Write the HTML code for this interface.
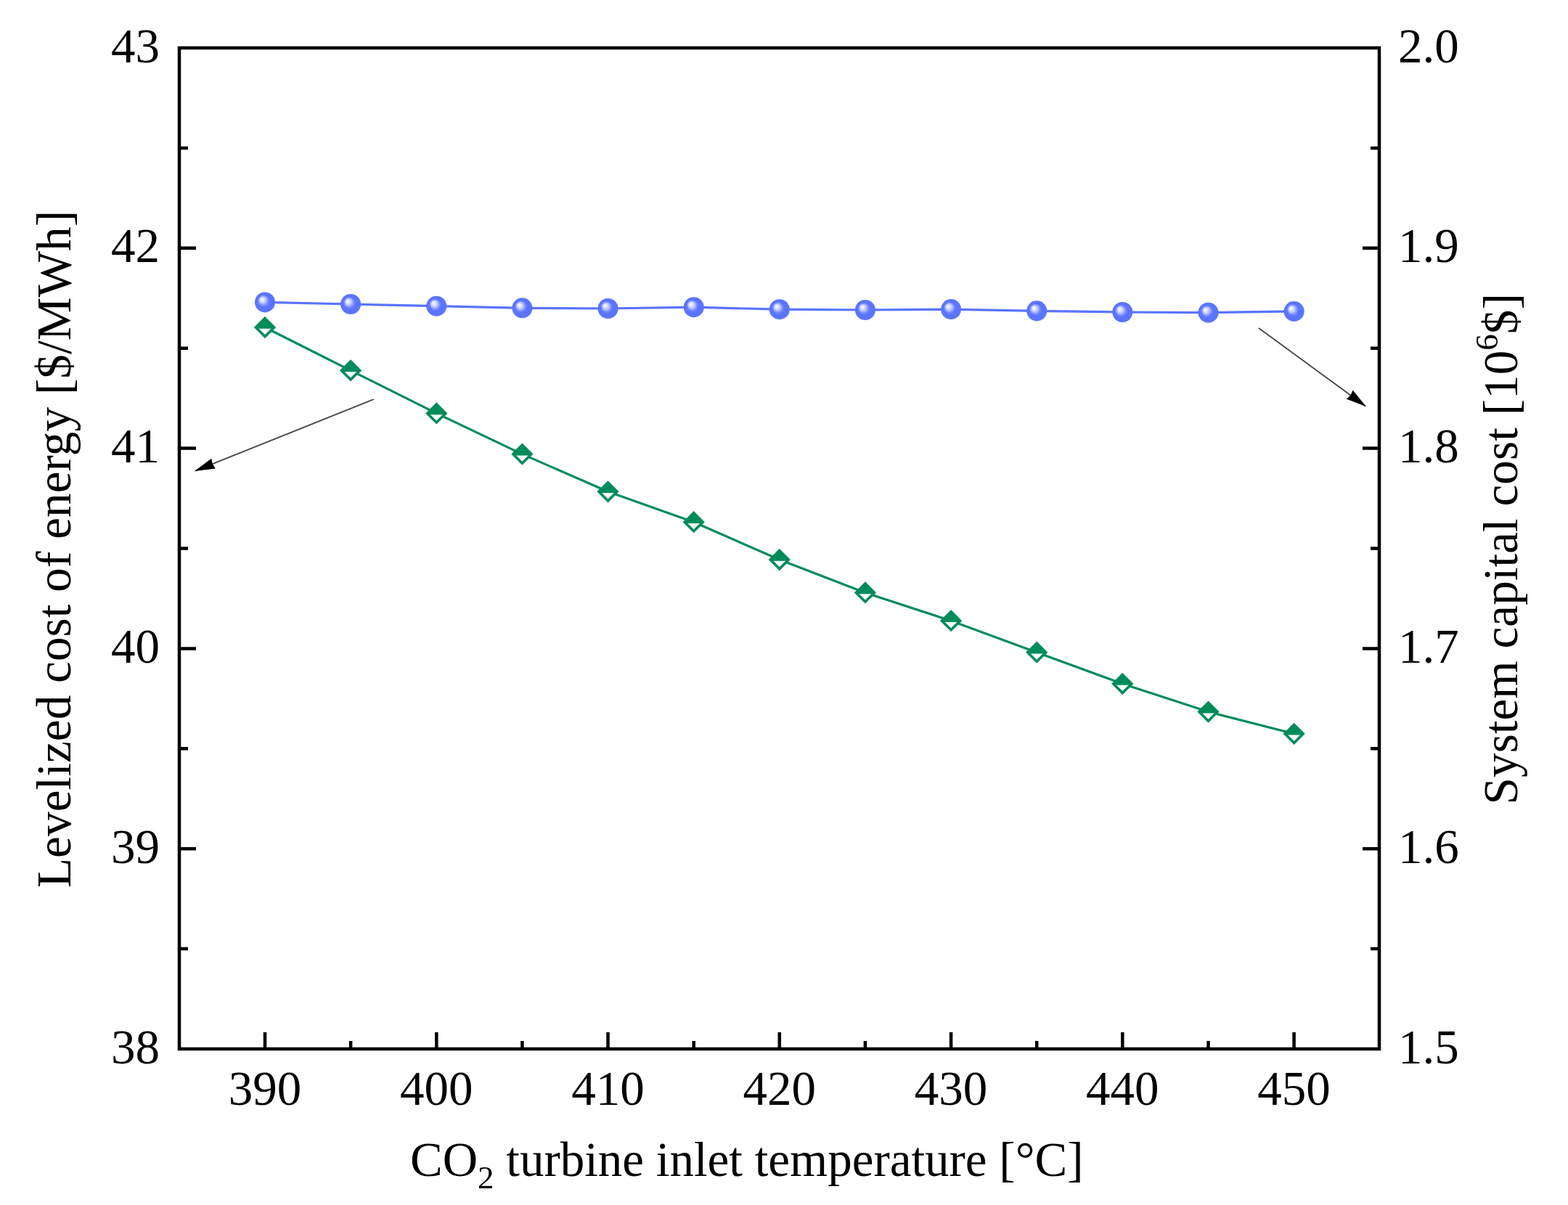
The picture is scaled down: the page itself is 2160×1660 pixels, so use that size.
<!DOCTYPE html>
<html><head><meta charset="utf-8"><title>LCOE vs CO2 turbine inlet temperature</title>
<style>
html,body{margin:0;padding:0;background:#fff;}
body{width:2160px;height:1660px;overflow:hidden;}
svg{display:block;}
text{font-family:"Liberation Serif","Times New Roman",serif;fill:#000;}
</style></head><body>
<svg width="2160" height="1660" viewBox="0 0 2160 1660">
<defs>
<radialGradient id="ball" cx="0.5" cy="0.5" r="0.5" fx="0.34" fy="0.34">
<stop offset="0" stop-color="#ffffff"/>
<stop offset="0.15" stop-color="#e4e8ff"/>
<stop offset="0.32" stop-color="#b8c2ff"/>
<stop offset="0.5" stop-color="#7487ff"/>
<stop offset="0.62" stop-color="#5a74ff"/>
<stop offset="1" stop-color="#5a74ff"/>
</radialGradient>
<marker id="ah" viewBox="0 0 28 15" refX="27" refY="7.5" markerWidth="28" markerHeight="15" markerUnits="userSpaceOnUse" orient="auto"><path d="M0,0 L28,7.5 L0,15 L1.5,7.5 z" fill="#000"/></marker>
</defs>
<rect x="0" y="0" width="2160" height="1660" fill="#fff"/>

<rect x="247" y="66" width="1653" height="1379" fill="none" stroke="#000" stroke-width="4.5"/>
<path d="M247 1307.1h12 M1900 1307.1h-12 M247 1169.2h23 M1900 1169.2h-23 M247 1031.3h12 M1900 1031.3h-12 M247 893.4h23 M1900 893.4h-23 M247 755.5h12 M1900 755.5h-12 M247 617.6h23 M1900 617.6h-23 M247 479.7h12 M1900 479.7h-12 M247 341.8h23 M1900 341.8h-23 M247 203.9h12 M1900 203.9h-12 M365.0 1445v-23 M483.1 1445v-11 M601.3 1445v-23 M719.4 1445v-11 M837.5 1445v-23 M955.7 1445v-11 M1073.8 1445v-23 M1191.9 1445v-11 M1310.1 1445v-23 M1428.2 1445v-11 M1546.3 1445v-23 M1664.5 1445v-11 M1782.6 1445v-23" stroke="#000" stroke-width="4.5" fill="none"/>
<text x="220" y="1464.5" text-anchor="end" font-size="67">38</text>
<text x="220" y="1188.7" text-anchor="end" font-size="67">39</text>
<text x="220" y="912.9" text-anchor="end" font-size="67">40</text>
<text x="220" y="637.1" text-anchor="end" font-size="67">41</text>
<text x="220" y="361.3" text-anchor="end" font-size="67">42</text>
<text x="220" y="85.5" text-anchor="end" font-size="67">43</text>
<text x="1926" y="1464.5" font-size="67">1.5</text>
<text x="1926" y="1188.7" font-size="67">1.6</text>
<text x="1926" y="912.9" font-size="67">1.7</text>
<text x="1926" y="637.1" font-size="67">1.8</text>
<text x="1926" y="361.3" font-size="67">1.9</text>
<text x="1926" y="85.5" font-size="67">2.0</text>
<text x="365.0" y="1522" text-anchor="middle" font-size="67">390</text>
<text x="601.3" y="1522" text-anchor="middle" font-size="67">400</text>
<text x="837.5" y="1522" text-anchor="middle" font-size="67">410</text>
<text x="1073.8" y="1522" text-anchor="middle" font-size="67">420</text>
<text x="1310.1" y="1522" text-anchor="middle" font-size="67">430</text>
<text x="1546.3" y="1522" text-anchor="middle" font-size="67">440</text>
<text x="1782.6" y="1522" text-anchor="middle" font-size="67">450</text>
<text x="565" y="1620" font-size="67">CO<tspan font-size="45" dy="17">2</tspan><tspan dy="-17"> turbine inlet temperature [°C]</tspan></text>
<text transform="translate(97.3 1223) rotate(-90)" font-size="67.3">Levelized cost of energy [$/MWh]</text>
<text transform="translate(2090 1108.4) rotate(-90)" font-size="67.25">System capital cost [10<tspan font-size="45" dy="-27">6</tspan><tspan dy="27">$]</tspan></text>
<polyline points="365.0,451 483.1,510.4 601.3,569.4 719.4,625.6 837.5,677.3 955.7,719.2 1073.8,771 1191.9,816.4 1310.1,855.2 1428.2,898.7 1546.3,942 1664.5,980.6 1782.6,1010.8" fill="none" stroke="#008c5a" stroke-width="3.2" stroke-linejoin="round"/>
<polyline points="365.0,416.4 483.1,419 601.3,421.7 719.4,424.3 837.5,425 955.7,423.2 1073.8,426.2 1191.9,427 1310.1,426.1 1428.2,428.3 1546.3,430 1664.5,430.7 1782.6,428.9" fill="none" stroke="#5a74ff" stroke-width="3.2" stroke-linejoin="round"/>
<g transform="translate(365.0 451)"><path d="M0,-12.6 L12.6,0 L0,12.6 L-12.6,0 Z" fill="#fff" stroke="#008c5a" stroke-width="3.6" stroke-linejoin="miter"/><path d="M0,-12.6 L12.6,0 L10.8,1.8 L-10.8,1.8 L-12.6,0 Z" fill="#008c5a"/></g>
<g transform="translate(483.1 510.4)"><path d="M0,-12.6 L12.6,0 L0,12.6 L-12.6,0 Z" fill="#fff" stroke="#008c5a" stroke-width="3.6" stroke-linejoin="miter"/><path d="M0,-12.6 L12.6,0 L10.8,1.8 L-10.8,1.8 L-12.6,0 Z" fill="#008c5a"/></g>
<g transform="translate(601.3 569.4)"><path d="M0,-12.6 L12.6,0 L0,12.6 L-12.6,0 Z" fill="#fff" stroke="#008c5a" stroke-width="3.6" stroke-linejoin="miter"/><path d="M0,-12.6 L12.6,0 L10.8,1.8 L-10.8,1.8 L-12.6,0 Z" fill="#008c5a"/></g>
<g transform="translate(719.4 625.6)"><path d="M0,-12.6 L12.6,0 L0,12.6 L-12.6,0 Z" fill="#fff" stroke="#008c5a" stroke-width="3.6" stroke-linejoin="miter"/><path d="M0,-12.6 L12.6,0 L10.8,1.8 L-10.8,1.8 L-12.6,0 Z" fill="#008c5a"/></g>
<g transform="translate(837.5 677.3)"><path d="M0,-12.6 L12.6,0 L0,12.6 L-12.6,0 Z" fill="#fff" stroke="#008c5a" stroke-width="3.6" stroke-linejoin="miter"/><path d="M0,-12.6 L12.6,0 L10.8,1.8 L-10.8,1.8 L-12.6,0 Z" fill="#008c5a"/></g>
<g transform="translate(955.7 719.2)"><path d="M0,-12.6 L12.6,0 L0,12.6 L-12.6,0 Z" fill="#fff" stroke="#008c5a" stroke-width="3.6" stroke-linejoin="miter"/><path d="M0,-12.6 L12.6,0 L10.8,1.8 L-10.8,1.8 L-12.6,0 Z" fill="#008c5a"/></g>
<g transform="translate(1073.8 771)"><path d="M0,-12.6 L12.6,0 L0,12.6 L-12.6,0 Z" fill="#fff" stroke="#008c5a" stroke-width="3.6" stroke-linejoin="miter"/><path d="M0,-12.6 L12.6,0 L10.8,1.8 L-10.8,1.8 L-12.6,0 Z" fill="#008c5a"/></g>
<g transform="translate(1191.9 816.4)"><path d="M0,-12.6 L12.6,0 L0,12.6 L-12.6,0 Z" fill="#fff" stroke="#008c5a" stroke-width="3.6" stroke-linejoin="miter"/><path d="M0,-12.6 L12.6,0 L10.8,1.8 L-10.8,1.8 L-12.6,0 Z" fill="#008c5a"/></g>
<g transform="translate(1310.1 855.2)"><path d="M0,-12.6 L12.6,0 L0,12.6 L-12.6,0 Z" fill="#fff" stroke="#008c5a" stroke-width="3.6" stroke-linejoin="miter"/><path d="M0,-12.6 L12.6,0 L10.8,1.8 L-10.8,1.8 L-12.6,0 Z" fill="#008c5a"/></g>
<g transform="translate(1428.2 898.7)"><path d="M0,-12.6 L12.6,0 L0,12.6 L-12.6,0 Z" fill="#fff" stroke="#008c5a" stroke-width="3.6" stroke-linejoin="miter"/><path d="M0,-12.6 L12.6,0 L10.8,1.8 L-10.8,1.8 L-12.6,0 Z" fill="#008c5a"/></g>
<g transform="translate(1546.3 942)"><path d="M0,-12.6 L12.6,0 L0,12.6 L-12.6,0 Z" fill="#fff" stroke="#008c5a" stroke-width="3.6" stroke-linejoin="miter"/><path d="M0,-12.6 L12.6,0 L10.8,1.8 L-10.8,1.8 L-12.6,0 Z" fill="#008c5a"/></g>
<g transform="translate(1664.5 980.6)"><path d="M0,-12.6 L12.6,0 L0,12.6 L-12.6,0 Z" fill="#fff" stroke="#008c5a" stroke-width="3.6" stroke-linejoin="miter"/><path d="M0,-12.6 L12.6,0 L10.8,1.8 L-10.8,1.8 L-12.6,0 Z" fill="#008c5a"/></g>
<g transform="translate(1782.6 1010.8)"><path d="M0,-12.6 L12.6,0 L0,12.6 L-12.6,0 Z" fill="#fff" stroke="#008c5a" stroke-width="3.6" stroke-linejoin="miter"/><path d="M0,-12.6 L12.6,0 L10.8,1.8 L-10.8,1.8 L-12.6,0 Z" fill="#008c5a"/></g>
<circle cx="365.0" cy="416.4" r="14" fill="url(#ball)"/>
<circle cx="483.1" cy="419" r="14" fill="url(#ball)"/>
<circle cx="601.3" cy="421.7" r="14" fill="url(#ball)"/>
<circle cx="719.4" cy="424.3" r="14" fill="url(#ball)"/>
<circle cx="837.5" cy="425" r="14" fill="url(#ball)"/>
<circle cx="955.7" cy="423.2" r="14" fill="url(#ball)"/>
<circle cx="1073.8" cy="426.2" r="14" fill="url(#ball)"/>
<circle cx="1191.9" cy="427" r="14" fill="url(#ball)"/>
<circle cx="1310.1" cy="426.1" r="14" fill="url(#ball)"/>
<circle cx="1428.2" cy="428.3" r="14" fill="url(#ball)"/>
<circle cx="1546.3" cy="430" r="14" fill="url(#ball)"/>
<circle cx="1664.5" cy="430.7" r="14" fill="url(#ball)"/>
<circle cx="1782.6" cy="428.9" r="14" fill="url(#ball)"/>
<line x1="515" y1="550" x2="269" y2="648.6" stroke="#444" stroke-width="1.8" marker-end="url(#ah)"/>
<line x1="1734" y1="452" x2="1881" y2="559.5" stroke="#444" stroke-width="1.8" marker-end="url(#ah)"/>
</svg>
</body></html>
